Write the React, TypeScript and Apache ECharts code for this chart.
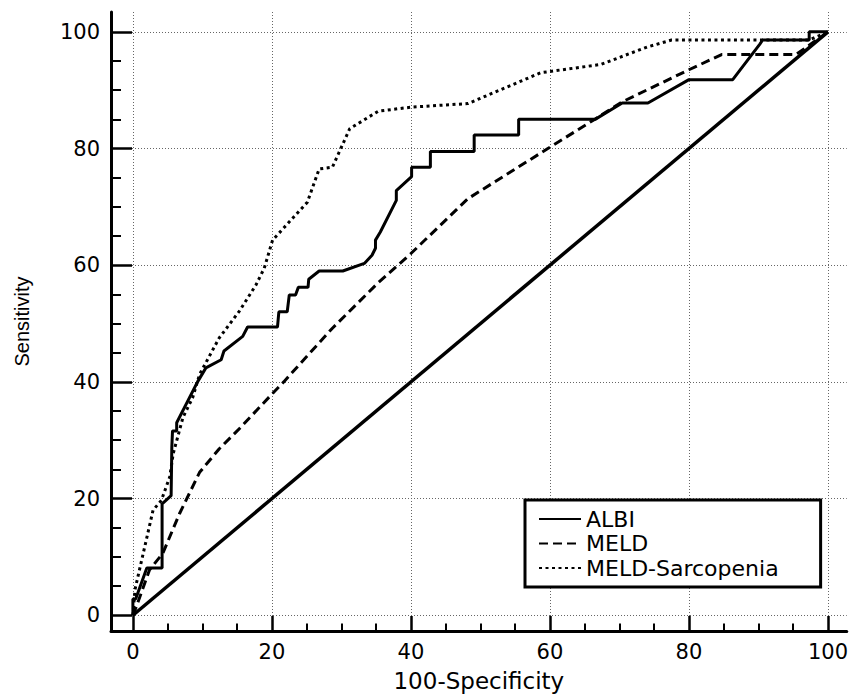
import React, { useEffect, useRef } from "react";
import * as echarts from "echarts";

// ---- data ----
const albiX = [0, 0, 0.4, 2.0, 4.2, 4.2, 5.5, 5.6, 5.7, 6.3, 6.3, 9.3, 10.5, 12.7, 13.1, 15.8, 16.5, 20.8, 21.0, 22.2, 22.5, 23.4, 23.8, 25.2, 25.3, 26.8, 30.2, 33.3, 34.4, 34.9, 34.9, 35.6, 37.9, 37.9, 40.1, 40.1, 42.8, 42.8, 49.1, 49.1, 55.5, 55.5, 66.5, 70.4, 74.1, 80.0, 86.3, 90.2, 90.6, 97.3, 97.3, 100];
const albiY = [0, 2.8, 2.8, 8.1, 8.1, 19.1, 20.5, 28.8, 31.6, 31.6, 33.0, 40.0, 42.4, 43.8, 45.3, 47.8, 49.4, 49.4, 52.0, 52.0, 54.9, 54.9, 56.2, 56.2, 57.6, 59.0, 59.0, 60.3, 61.7, 62.9, 64.3, 65.7, 71.1, 72.8, 75.2, 76.8, 76.8, 79.5, 79.5, 82.3, 82.3, 85.0, 85.0, 87.8, 87.8, 91.8, 91.8, 97.9, 98.6, 98.6, 100, 100];

const meldX = [0, 0.5, 2.4, 4.3, 6.7, 9.6, 12.4, 15.5, 20.0, 21.7, 28.7, 35.3, 40.0, 48.2, 59.7, 66.3, 70.4, 80.0, 84.7, 95.4, 100];
const meldY = [0, 1.5, 7.8, 10.6, 17.4, 24.5, 28.5, 32.2, 37.9, 40.0, 49.2, 57.0, 62.0, 71.4, 80.0, 84.9, 88.0, 93.5, 96.1, 96.1, 100];

const sarcoX = [0, 0.3, 2.9, 4.1, 5.3, 5.8, 7.2, 8.6, 9.6, 12.4, 15.3, 17.7, 18.9, 20.1, 25.1, 26.8, 28.7, 30.1, 31.2, 35.3, 40.1, 48.2, 58.7, 67.3, 74.0, 77.5, 97.3, 100];
const sarcoY = [0, 4.4, 18.0, 19.7, 23.7, 27.7, 33.9, 37.3, 41.3, 47.5, 52.1, 56.6, 59.5, 64.3, 70.8, 76.5, 76.8, 80.5, 83.4, 86.4, 87.1, 87.7, 93.0, 94.4, 97.4, 98.6, 98.6, 100];

const chanceX = [0, 100];
const chanceY = [0, 100];

const seriesNames = ["ALBI", "MELD", "MELD-Sarcopenia"];

const xMajorTicks = [0, 20, 40, 60, 80, 100];
const xMinorTicks = [5, 10, 15, 25, 30, 35, 45, 50, 55, 65, 70, 75, 85, 90, 95];
const yMajorTicks = [0, 20, 40, 60, 80, 100];
const yMinorTicks = [5, 10, 15, 25, 30, 35, 45, 50, 55, 65, 70, 75, 85, 90, 95];

const xTitle = "100-Specificity";
const yTitle = "Sensitivity";

const zip = (xs: number[], ys: number[]) => xs.map((x, i) => [x, ys[i]]);

const X_MIN = -3.15;
const X_MAX = 102.7;
const Y_MIN = -2.7;
const Y_MAX = 103.4;

const FONT = "DejaVu Sans";

export default function App() {
  const ref = useRef<HTMLDivElement>(null);

  useEffect(() => {
    if (!ref.current) return;
    const chart = echarts.init(ref.current, undefined, { renderer: "svg" });

    const gridLine = { show: true, lineStyle: { type: [1, 2], color: "#666", width: 1 } };
    const labelStyle = { fontSize: 21, fontFamily: FONT, color: "#000" };

    const option: any = {
      animation: false,
      backgroundColor: "#fff",
      grid: { left: 111, top: 12, width: 740, height: 623, containLabel: false },
      legend: {
        orient: "vertical",
        left: 525,
        top: 500,
        data: seriesNames,
        itemWidth: 42,
        itemHeight: 12,
        itemGap: 2.5,
        padding: [8, 42, 8, 13],
        borderColor: "#000",
        borderWidth: 3,
        backgroundColor: "#fff",
        itemStyle: { opacity: 0 },
        textStyle: { fontSize: 22, fontFamily: FONT, color: "#000", lineHeight: 22 },
      },
      xAxis: [
        {
          type: "value",
          min: X_MIN,
          max: X_MAX,
          position: "bottom",
          axisLine: { show: true, onZero: false, lineStyle: { color: "#000", width: 3 } },
          axisTick: { show: true, inside: true, length: 15, customValues: xMajorTicks, lineStyle: { color: "#000", width: 2.5 } },
          axisLabel: { show: true, customValues: xMajorTicks, margin: 10, ...labelStyle },
          splitLine: gridLine,
          name: xTitle,
          nameLocation: "middle",
          nameGap: 38,
          nameTextStyle: { fontSize: 23, fontFamily: FONT, color: "#000" },
        },
        {
          type: "value",
          min: X_MIN,
          max: X_MAX,
          position: "bottom",
          axisLine: { show: false, onZero: false },
          axisTick: { show: true, inside: true, length: 7.5, customValues: xMinorTicks, lineStyle: { color: "#000", width: 2 } },
          axisLabel: { show: false },
          splitLine: { show: false },
        },
      ],
      yAxis: [
        {
          type: "value",
          min: Y_MIN,
          max: Y_MAX,
          position: "left",
          axisLine: { show: true, onZero: false, lineStyle: { color: "#000", width: 3 } },
          axisTick: { show: true, inside: true, length: 21, customValues: yMajorTicks, lineStyle: { color: "#000", width: 2.5 } },
          axisLabel: { show: true, customValues: yMajorTicks, margin: 11, ...labelStyle },
          splitLine: gridLine,
          name: yTitle,
          nameLocation: "middle",
          nameGap: 79,
          nameRotate: 90,
          nameTextStyle: { fontSize: 20, fontFamily: "Liberation Sans", color: "#000" },
        },
        {
          type: "value",
          min: Y_MIN,
          max: Y_MAX,
          position: "left",
          axisLine: { show: false, onZero: false },
          axisTick: { show: true, inside: true, length: 10, customValues: yMinorTicks, lineStyle: { color: "#000", width: 2 } },
          axisLabel: { show: false },
          splitLine: { show: false },
        },
      ],
      series: [
        {
          name: "chance",
          type: "line",
          data: zip(chanceX, chanceY),
          symbol: "none",
          lineStyle: { color: "#000", width: 3.5, type: "solid" },
          silent: true,
          z: 2,
        },
        {
          name: seriesNames[0],
          type: "line",
          data: zip(albiX, albiY),
          symbol: "none",
          lineStyle: { color: "#000", width: 3, type: "solid" },
          itemStyle: { color: "#000" },
          z: 3,
        },
        {
          name: seriesNames[1],
          type: "line",
          data: zip(meldX, meldY),
          symbol: "none",
          lineStyle: { color: "#000", width: 3, type: [9, 5] },
          itemStyle: { color: "#000" },
          z: 3,
        },
        {
          name: seriesNames[2],
          type: "line",
          data: zip(sarcoX, sarcoY),
          symbol: "none",
          lineStyle: { color: "#000", width: 3, type: [3, 3.5] },
          itemStyle: { color: "#000" },
          z: 3,
        },
      ],
    };

    chart.setOption(option);
    return () => chart.dispose();
  }, []);

  return (
    <div
      ref={ref}
      style={{ position: "absolute", left: 0, top: 0, width: 851, height: 697, background: "#fff" }}
    />
  );
}
